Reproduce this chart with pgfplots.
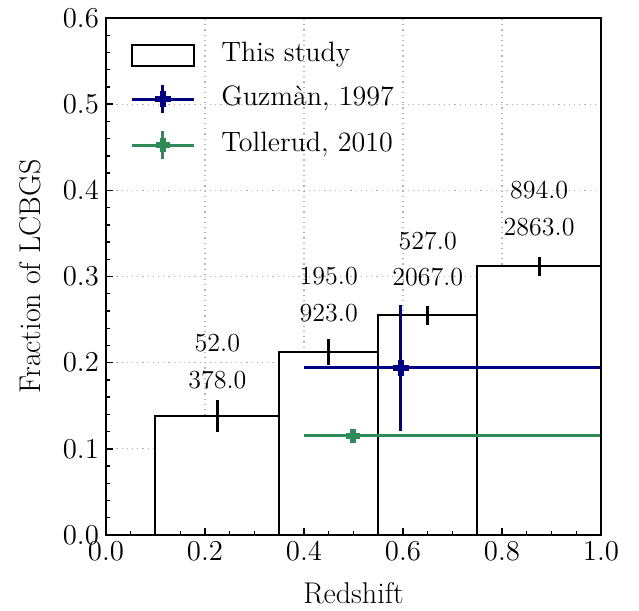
\documentclass[border=0pt]{standalone}
\usepackage{pgfplots}
\pgfplotsset{compat=1.18}
\definecolor{navyc}{RGB}{0,0,128}
\definecolor{seag}{RGB}{46,139,87}
\begin{document}
\begin{tikzpicture}
\begin{axis}[
  axis on top,
  scale only axis, width=247.5pt, height=258.5pt,
  xmin=0, xmax=1, ymin=0, ymax=0.6,
  xtick={0,0.2,0.4,0.6,0.8,1.0}, ytick={0,0.1,0.2,0.3,0.4,0.5,0.6},
  minor x tick num=3, minor y tick num=4,
  tick align=inside, tick pos=left,
  major tick length=3.5pt, minor tick length=2pt,
  every tick/.style={black, line width=0.7pt},
  axis line style={line width=1.3pt},
  ticklabel style={font=\fontsize{15}{18}\selectfont},
  xticklabel style={/pgf/number format/.cd, fixed, fixed zerofill, precision=1},
  yticklabel style={/pgf/number format/.cd, fixed, fixed zerofill, precision=1},
  xlabel={Redshift}, ylabel={Fraction of LCBGS},
  label style={font=\fontsize{15}{18}\selectfont},
  xlabel style={at={(rel axis cs:0.5,0)}, anchor=center, yshift=-29pt},
  ylabel style={at={(rel axis cs:0,0.5)}, anchor=center, yshift=38pt},
  legend cell align=left,
  legend style={at={(rel axis cs:0,1)}, anchor=north west, xshift=12pt, yshift=-11.75pt,
    draw=none, fill=none, inner sep=0pt, row sep=7.5pt, column sep=2pt,
    font=\fontsize{14}{17}\selectfont,
    nodes={inner sep=0pt, text height=10pt, text depth=3.5pt}},
  /tikz/every odd column/.append style={column sep=13pt},
  gridline/.style={dotted, black!30, line width=0.6pt, mark=none, forget plot},
]
% grid lines (behind the bars)
\addplot[gridline] coordinates {(0.2,0) (0.2,0.6)};
\addplot[gridline] coordinates {(0.4,0) (0.4,0.6)};
\addplot[gridline] coordinates {(0.6,0) (0.6,0.6)};
\addplot[gridline] coordinates {(0.8,0) (0.8,0.6)};
\addplot[gridline] coordinates {(0,0.1) (1,0.1)};
\addplot[gridline] coordinates {(0,0.2) (1,0.2)};
\addplot[gridline] coordinates {(0,0.3) (1,0.3)};
\addplot[gridline] coordinates {(0,0.4) (1,0.4)};
\addplot[gridline] coordinates {(0,0.5) (1,0.5)};

\addlegendimage{legend image code/.code={\draw[black,line width=1pt,fill=white] (0pt,-5.25pt) rectangle (31pt,5.25pt);}}
\addlegendentry{This study}
\addlegendimage{legend image code/.code={\draw[navyc,line width=1.5pt] (0pt,0pt)--(31pt,0pt) (15.5pt,-7pt)--(15.5pt,7pt); \draw[navyc,line width=3pt] (11.5pt,0pt)--(19.5pt,0pt) (15.5pt,-4pt)--(15.5pt,4pt);}}
\addlegendentry{Guzm\`an, 1997}
\addlegendimage{legend image code/.code={\draw[seag,line width=1.5pt] (0pt,0pt)--(31pt,0pt) (15.5pt,-7pt)--(15.5pt,7pt); \draw[seag,line width=3pt] (12pt,0pt)--(19pt,0pt) (15.5pt,-3.5pt)--(15.5pt,3.5pt);}}
\addlegendentry{Tollerud, 2010}

\addplot[ybar interval, fill=white, draw=black, line width=1pt, forget plot]
  coordinates {(0.1,0.138) (0.35,0.212) (0.55,0.255) (0.75,0.312) (1.0,0.312)};
\addplot[draw=none, mark=none, forget plot,
  error bars/.cd, y dir=both, y explicit, error mark=none,
  error bar style={draw=black, line width=1.6pt, solid}]
  coordinates {(0.225,0.138) +- (0,0.0186) (0.45,0.212) +- (0,0.015)
               (0.65,0.255) +- (0,0.0112) (0.875,0.312) +- (0,0.011)};
\addplot[seag, line width=1.5pt, mark=+, mark size=3.5pt, mark options={line width=3pt}, forget plot,
  error bars/.cd, x dir=both, y dir=both, x explicit, y explicit, error mark=none,
  error bar style={seag, line width=1.5pt, solid}]
  coordinates {(0.5,0.115) += (0.5,0.004) -= (0.1,0.004)};
\addplot[navyc, line width=1.5pt, mark=+, mark size=4pt, mark options={line width=3pt}, forget plot,
  error bars/.cd, x dir=both, y dir=both, x explicit, y explicit, error mark=none,
  error bar style={navyc, line width=1.5pt, solid}]
  coordinates {(0.595,0.194) += (0.405,0.073) -= (0.195,0.073)};

\begin{scope}[font=\fontsize{13}{16}\selectfont]
\node at (axis cs:0.225,0.223) {52.0};
\node at (axis cs:0.225,0.180) {378.0};
\node at (axis cs:0.45,0.300) {195.0};
\node at (axis cs:0.45,0.258) {923.0};
\node at (axis cs:0.65,0.341) {527.0};
\node at (axis cs:0.65,0.299) {2067.0};
\node at (axis cs:0.875,0.400) {894.0};
\node at (axis cs:0.875,0.357) {2863.0};
\end{scope}
\end{axis}
\path ([shift={(-53pt,-37pt)}]current axis.south west) rectangle ([shift={(19pt,9pt)}]current axis.north east);
\end{tikzpicture}
\end{document}
